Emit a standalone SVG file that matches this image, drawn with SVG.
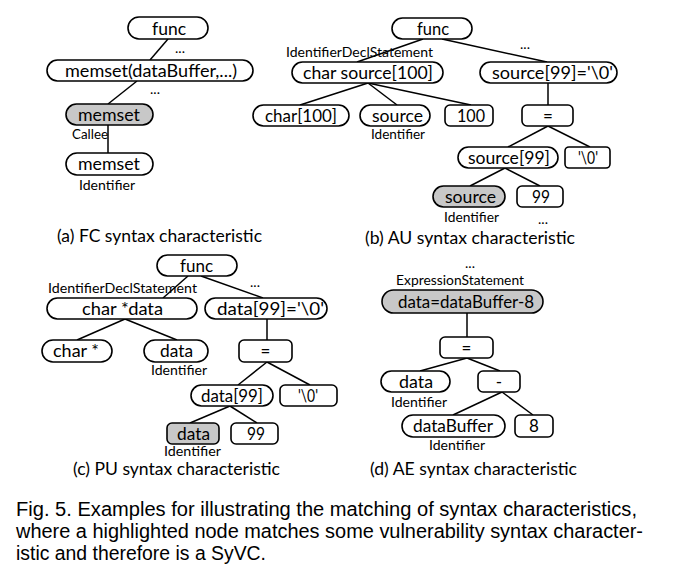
<svg xmlns="http://www.w3.org/2000/svg" width="689" height="566" viewBox="0 0 689 566">
<style>
.n{fill:#fff;stroke:#000;stroke-width:1.6}
.g{fill:#c8c8c8;stroke:#000;stroke-width:1.6}
.t{font-family:Lato,"Open Sans",sans-serif;font-size:17px;fill:#000}
.c{text-anchor:middle}
.s{font-family:Lato,"Open Sans",sans-serif;font-size:12.5px;fill:#000}
.cap{font-family:Lato,"Open Sans",sans-serif;font-size:17px;fill:#000}
.d{font-family:Lato,"Open Sans",sans-serif;font-size:14px;fill:#000;text-anchor:middle}
.fig{font-family:"Liberation Sans",Arial,sans-serif;font-size:19.5px;fill:#000}
#edges line{stroke:#000;stroke-width:1.5}
</style>
<rect width="689" height="566" fill="#fff"/>
<g id="edges">
<line x1="168" y1="39" x2="150" y2="60"/>
<line x1="137" y1="81" x2="108" y2="104"/>
<line x1="108" y1="125" x2="108" y2="153"/>
<line x1="423" y1="39" x2="357" y2="62"/>
<line x1="442" y1="39" x2="547" y2="62"/>
<line x1="368" y1="83" x2="300" y2="105"/>
<line x1="368" y1="83" x2="397" y2="105"/>
<line x1="368" y1="83" x2="471" y2="105"/>
<line x1="548" y1="83" x2="548" y2="105"/>
<line x1="548" y1="126" x2="508" y2="147"/>
<line x1="548" y1="126" x2="590" y2="147"/>
<line x1="505" y1="168" x2="470" y2="186"/>
<line x1="505" y1="168" x2="540" y2="186"/>
<line x1="188" y1="276" x2="163" y2="298"/>
<line x1="201" y1="276" x2="263" y2="298"/>
<line x1="125" y1="319" x2="77" y2="340"/>
<line x1="125" y1="319" x2="177" y2="340"/>
<line x1="267" y1="319" x2="267" y2="340"/>
<line x1="267" y1="362" x2="238" y2="385"/>
<line x1="267" y1="362" x2="310" y2="385"/>
<line x1="230" y1="406" x2="190" y2="423"/>
<line x1="230" y1="406" x2="257" y2="423"/>
<line x1="467" y1="313" x2="467" y2="337"/>
<line x1="467" y1="358" x2="420" y2="371"/>
<line x1="467" y1="358" x2="500" y2="371"/>
<line x1="502" y1="392" x2="453" y2="415"/>
<line x1="502" y1="392" x2="533" y2="415"/>
</g>

<!-- (a) -->
<g id="a-func"><rect class="n" x="128" y="17" width="80" height="22" rx="11"/><text class="t" x="152" y="34.5" textLength="34" lengthAdjust="spacingAndGlyphs">func</text></g>
<text class="d" x="180" y="53">...</text>
<g id="a-memsetcall"><rect class="n" x="47" y="60" width="206" height="21" rx="10.5"/><text class="t" x="65" y="76.5" textLength="172" lengthAdjust="spacingAndGlyphs">memset(dataBuffer,...)</text></g>
<text class="d" x="155" y="94">...</text>
<g id="a-callee"><rect class="g" x="66" y="104" width="87" height="21" rx="10.5"/><text class="t" x="78" y="120.5" textLength="62" lengthAdjust="spacingAndGlyphs">memset</text><text class="s" x="72" y="139" textLength="36" lengthAdjust="spacingAndGlyphs">Callee</text></g>
<g id="a-ident"><rect class="n" x="66" y="153" width="87" height="22" rx="11"/><text class="t" x="78" y="170" textLength="62" lengthAdjust="spacingAndGlyphs">memset</text><text class="s" x="79" y="189.5" textLength="56" lengthAdjust="spacingAndGlyphs">Identifier</text></g>
<text class="cap" x="57" y="242" textLength="205" lengthAdjust="spacingAndGlyphs">(a) FC syntax characteristic</text>

<!-- (b) -->
<g id="b-func"><rect class="n" x="392" y="18" width="80" height="21" rx="10.5"/><text class="t" x="417" y="34.5" textLength="32" lengthAdjust="spacingAndGlyphs">func</text></g>
<text class="d" x="525" y="49">...</text>
<g id="b-decl"><text class="s" x="286" y="57" textLength="147" lengthAdjust="spacingAndGlyphs">IdentifierDeclStatement</text><rect class="n" x="292" y="62" width="151" height="21" rx="10.5"/><text class="t" x="303" y="78.5" textLength="130" lengthAdjust="spacingAndGlyphs">char source[100]</text></g>
<g id="b-assign"><rect class="n" x="480" y="62" width="137" height="21" rx="10.5"/><text class="t" x="492" y="78.5" textLength="121" lengthAdjust="spacingAndGlyphs">source[99]='\0'</text></g>
<g id="b-type"><rect class="n" x="253" y="105" width="96" height="21" rx="10.5"/><text class="t" x="265" y="121.5" textLength="72" lengthAdjust="spacingAndGlyphs">char[100]</text></g>
<g id="b-source"><rect class="n" x="360" y="105" width="70" height="21" rx="10.5"/><text class="t" x="372" y="121.5" textLength="51" lengthAdjust="spacingAndGlyphs">source</text><text class="s" x="371" y="139" textLength="54" lengthAdjust="spacingAndGlyphs">Identifier</text></g>
<g id="b-100"><rect class="n" x="445" y="105" width="48" height="21" rx="5"/><text class="t" x="457" y="121.5" textLength="28" lengthAdjust="spacingAndGlyphs">100</text></g>
<g id="b-eq"><rect class="n" x="522" y="105" width="51" height="21" rx="5"/><text class="t c" x="548" y="121.5">=</text></g>
<g id="b-arr"><rect class="n" x="458" y="147" width="100" height="21" rx="10.5"/><text class="t" x="468" y="163.5" textLength="82" lengthAdjust="spacingAndGlyphs">source[99]</text></g>
<g id="b-null"><rect class="n" x="565" y="147" width="45" height="21" rx="4"/><text class="t" x="578" y="163.5" textLength="20" lengthAdjust="spacingAndGlyphs">'\0'</text></g>
<g id="b-src"><rect class="g" x="433" y="186" width="72" height="21" rx="10.5"/><text class="t" x="445" y="202.5" textLength="51" lengthAdjust="spacingAndGlyphs">source</text><text class="s" x="444" y="222" textLength="55" lengthAdjust="spacingAndGlyphs">Identifier</text></g>
<g id="b-99"><rect class="n" x="517" y="186" width="46" height="21" rx="5"/><text class="t" x="532" y="202.5" textLength="18" lengthAdjust="spacingAndGlyphs">99</text></g>
<text class="d" x="543" y="224">...</text>
<text class="cap" x="365" y="244" textLength="210" lengthAdjust="spacingAndGlyphs">(b) AU syntax characteristic</text>

<!-- (c) -->
<g id="c-func"><rect class="n" x="157" y="255" width="80" height="21" rx="10.5"/><text class="t" x="180" y="271.5" textLength="33" lengthAdjust="spacingAndGlyphs">func</text></g>
<text class="d" x="255" y="287">...</text>
<g id="c-decl"><text class="s" x="48" y="293" textLength="149" lengthAdjust="spacingAndGlyphs">IdentifierDeclStatement</text><rect class="n" x="47" y="298" width="150" height="21" rx="10.5"/><text class="t" x="82" y="314.5" textLength="81" lengthAdjust="spacingAndGlyphs">char *data</text></g>
<g id="c-assign"><rect class="n" x="205" y="298" width="122" height="21" rx="10.5"/><text class="t" x="217" y="314.5" textLength="107" lengthAdjust="spacingAndGlyphs">data[99]='\0'</text></g>
<g id="c-type"><rect class="n" x="42" y="340" width="70" height="22" rx="11"/><text class="t" x="53" y="357" textLength="46" lengthAdjust="spacingAndGlyphs">char *</text></g>
<g id="c-data"><rect class="n" x="144" y="340" width="64" height="22" rx="11"/><text class="t" x="160" y="357" textLength="33" lengthAdjust="spacingAndGlyphs">data</text><text class="s" x="151" y="375" textLength="56" lengthAdjust="spacingAndGlyphs">Identifier</text></g>
<g id="c-eq"><rect class="n" x="239" y="340" width="53" height="22" rx="5"/><text class="t c" x="265.5" y="357">=</text></g>
<g id="c-arr"><rect class="n" x="191" y="385" width="82" height="21" rx="10.5"/><text class="t" x="201" y="401.5" textLength="62" lengthAdjust="spacingAndGlyphs">data[99]</text></g>
<g id="c-null"><rect class="n" x="280" y="385" width="57" height="21" rx="5"/><text class="t" x="298" y="401.5" textLength="20" lengthAdjust="spacingAndGlyphs">'\0'</text></g>
<g id="c-d"><rect class="g" x="167" y="423" width="52" height="21" rx="5"/><text class="t" x="177" y="439.5" textLength="33" lengthAdjust="spacingAndGlyphs">data</text><text class="s" x="164" y="456" textLength="57" lengthAdjust="spacingAndGlyphs">Identifier</text></g>
<g id="c-99"><rect class="n" x="231" y="423" width="47" height="21" rx="5"/><text class="t" x="247" y="439.5" textLength="18" lengthAdjust="spacingAndGlyphs">99</text></g>
<text class="cap" x="73" y="475" textLength="207" lengthAdjust="spacingAndGlyphs">(c) PU syntax characteristic</text>

<!-- (d) -->
<text class="d" x="470" y="268">...</text>
<g id="d-expr"><text class="s" x="396" y="285" textLength="128" lengthAdjust="spacingAndGlyphs">ExpressionStatement</text><rect class="g" x="382" y="290" width="161" height="23" rx="11.5"/><text class="t" x="398" y="307.5" textLength="136" lengthAdjust="spacingAndGlyphs">data=dataBuffer-8</text></g>
<g id="d-eq"><rect class="n" x="440" y="337" width="53" height="21" rx="5"/><text class="t c" x="466.5" y="353.5">=</text></g>
<g id="d-data"><rect class="n" x="381" y="371" width="69" height="21" rx="10.5"/><text class="t" x="399" y="387.5" textLength="34" lengthAdjust="spacingAndGlyphs">data</text><text class="s" x="391" y="407" textLength="56" lengthAdjust="spacingAndGlyphs">Identifier</text></g>
<g id="d-minus"><rect class="n" x="478" y="371" width="42" height="21" rx="5"/><text class="t c" x="499" y="387.5">-</text></g>
<g id="d-buf"><rect class="n" x="402" y="415" width="103" height="22" rx="11"/><text class="t" x="413" y="432" textLength="80" lengthAdjust="spacingAndGlyphs">dataBuffer</text><text class="s" x="429" y="450" textLength="56" lengthAdjust="spacingAndGlyphs">Identifier</text></g>
<g id="d-8"><rect class="n" x="515" y="415" width="38" height="22" rx="5"/><text class="t c" x="534" y="432">8</text></g>
<text class="cap" x="370" y="475" textLength="207" lengthAdjust="spacingAndGlyphs">(d) AE syntax characteristic</text>

<text class="fig" x="16" y="516" textLength="621" lengthAdjust="spacingAndGlyphs">Fig. 5. Examples for illustrating the matching of syntax characteristics,</text>
<text class="fig" x="16" y="538" textLength="627" lengthAdjust="spacingAndGlyphs">where a highlighted node matches some vulnerability syntax character-</text>
<text class="fig" x="16" y="560" textLength="250" lengthAdjust="spacingAndGlyphs">istic and therefore is a SyVC.</text>
</svg>
